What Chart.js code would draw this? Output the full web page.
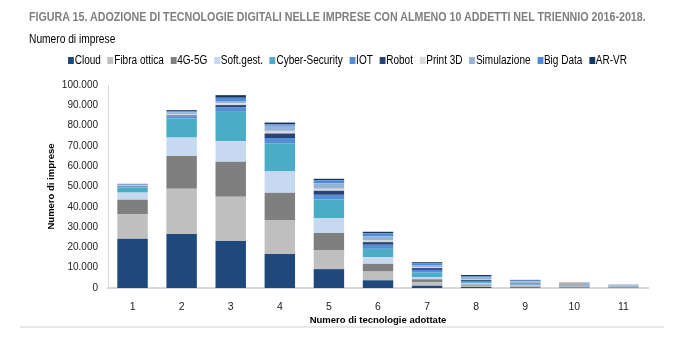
<!DOCTYPE html>
<html lang="it">
<head>
<meta charset="utf-8">
<title>Adozione di tecnologie digitali</title>
<script src="https://cdn.jsdelivr.net/npm/chart.js@4.4.1/dist/chart.umd.min.js"></script>
<style>
    html, body {
        margin: 0;
        padding: 0;
        background: #fff;
    }
    #wrap {
        position: relative;
        width: 695px;
        height: 342px;
        overflow: hidden;
        font-family: "Liberation Sans Narrow", "Arial Narrow", "Liberation Sans", sans-serif;
    }
    #chart {
        position: absolute;
        left: 0;
        top: 0;
    }
    .fit {
        position: absolute;
        white-space: nowrap;
        transform-origin: 0 50%;
    }
    .title {
        left: 29px;
        top: 10px;
        font-size: 12.5px;
        font-weight: bold;
        color: #7f7f7f;
    }
    .subtitle {
        left: 29px;
        top: 32px;
        font-size: 12px;
        color: #000;
    }
    #legend {
        left: 68px;
        top: 53px;
        display: flex;
        gap: 8px;
        font-size: 12px;
        color: #000;
    }
    #legend span.item {
        display: flex;
        align-items: center;
    }
    #legend i {
        display: inline-block;
        width: 7px;
        height: 7px;
        margin-right: 1px;
    }
    .rule {
        position: absolute;
        left: 20px;
        top: 326px;
        width: 644px;
        height: 2px;
        background: #e9e9e9;
    }
</style>
</head>
<body>
<div id="wrap">
    <canvas id="chart" width="695" height="342"></canvas>
    <div class="fit title" data-width="617">FIGURA 15. ADOZIONE DI TECNOLOGIE DIGITALI NELLE IMPRESE CON ALMENO 10 ADDETTI NEL TRIENNIO 2016-2018.</div>
    <div class="fit subtitle" data-width="86">Numero di imprese</div>
    <div class="fit" id="legend" data-width="559"></div>
    <div class="rule"></div>
</div>
<script>
// Numero di tecnologie adottate (asse x)
const categories = ["1", "2", "3", "4", "5", "6", "7", "8", "9", "10", "11"];

// Numero di imprese per tecnologia, per numero di tecnologie adottate
const cloud       = [24300, 26600, 23100, 16700, 9300, 3800, 1100, 500, 300, 220, 145];
const fibraOttica = [12100, 22300, 21900, 16800, 9200, 4300, 1700, 600, 400, 240, 145];
const g4g5        = [7100, 16100, 17200, 13400, 8600, 3800, 1500, 600, 400, 240, 145];
const softGest    = [3500, 9100, 10100, 10500, 7200, 3300, 1100, 500, 350, 230, 145];
const cyber       = [2500, 9400, 14500, 13900, 9300, 4100, 2200, 700, 400, 240, 145];
const iot         = [500, 1100, 2300, 2600, 2300, 2000, 1300, 600, 400, 240, 145];
const robot       = [300, 400, 1000, 2200, 2000, 1300, 900, 500, 350, 230, 145];
const print3d     = [200, 700, 900, 1300, 1000, 800, 300, 300, 250, 220, 145];
const simulazione = [300, 900, 1100, 2500, 2700, 2000, 1200, 800, 450, 260, 145];
const bigData     = [300, 500, 1600, 700, 1400, 1500, 800, 600, 350, 240, 145];
const arVr        = [200, 500, 1300, 900, 800, 800, 600, 700, 350, 240, 145];

const yTicks = [0, 10000, 20000, 30000, 40000, 50000, 60000, 70000, 80000, 90000, 100000];

const series = [
    { label: "Cloud", data: cloud, color: "#1F497D" },
    { label: "Fibra ottica", data: fibraOttica, color: "#BFBFBF" },
    { label: "4G-5G", data: g4g5, color: "#7F7F7F" },
    { label: "Soft.gest.", data: softGest, color: "#C6D9F1" },
    { label: "Cyber-Security", data: cyber, color: "#4BACC6" },
    { label: "IOT", data: iot, color: "#558ED5" },
    { label: "Robot", data: robot, color: "#264478" },
    { label: "Print 3D", data: print3d, color: "#D9D9D9" },
    { label: "Simulazione", data: simulazione, color: "#95B3D7" },
    { label: "Big Data", data: bigData, color: "#4F8BDB" },
    { label: "AR-VR", data: arVr, color: "#17375E" },
];

const FONT = "'Liberation Sans Narrow', 'Arial Narrow', 'Liberation Sans', sans-serif";

// 10000 -> "10.000"
function formatThousands(v) {
    return String(v).replace(/\B(?=(\d{3})+(?!\d))/g, ".");
}

// white background behind the canvas
const whiteBg = {
    id: "whiteBg",
    beforeDraw(chart) {
        const ctx = chart.ctx;
        ctx.save();
        ctx.fillStyle = "#fff";
        ctx.fillRect(0, 0, chart.width, chart.height);
        ctx.restore();
    },
};

const chart = new Chart(document.getElementById("chart").getContext("2d"), {
    type: "bar",
    data: {
        labels: categories,
        datasets: series.map((s) => ({
            label: s.label,
            data: s.data,
            backgroundColor: s.color,
            borderWidth: 0,
            categoryPercentage: 1,
            barPercentage: 0.62,
        })),
    },
    options: {
        responsive: false,
        animation: false,
        layout: {
            padding: { top: 85, left: 44, right: 47, bottom: 14 },
        },
        plugins: {
            legend: { display: false },
            tooltip: { enabled: false },
        },
        scales: {
            x: {
                stacked: true,
                grid: { display: false, drawTicks: false },
                border: { display: true, color: "#d9d9d9", width: 2 },
                ticks: {
                    padding: 13,
                    color: "#222",
                    font: { family: FONT, size: 10.5 },
                },
                title: {
                    display: true,
                    text: "Numero di tecnologie adottate",
                    color: "#000",
                    font: { family: FONT, size: 9.5, weight: "bold" },
                    padding: { top: 0, bottom: 2 },
                },
                afterFit(scale) {
                    scale.height = 40;
                },
            },
            y: {
                stacked: true,
                min: 0,
                max: 100000,
                grid: { display: false, drawTicks: false },
                border: { display: true, color: "#d9d9d9", width: 1 },
                afterBuildTicks(scale) {
                    scale.ticks = yTicks.map((v) => ({ value: v }));
                },
                ticks: {
                    padding: 10,
                    color: "#222",
                    font: { family: FONT, size: 10 },
                    callback: (v) => formatThousands(v),
                },
                title: {
                    display: true,
                    text: "Numero di imprese",
                    color: "#000",
                    font: { family: FONT, size: 9.5, weight: "bold" },
                    padding: { top: 2, bottom: 0 },
                },
                afterFit(scale) {
                    scale.width = 64;
                },
            },
        },
    },
    plugins: [whiteBg],
});

// legend row built from the chart datasets
const legendEl = document.getElementById("legend");
chart.data.datasets.forEach((ds) => {
    const item = document.createElement("span");
    item.className = "item";
    const box = document.createElement("i");
    box.style.background = ds.backgroundColor;
    item.appendChild(box);
    item.appendChild(document.createTextNode(ds.label));
    legendEl.appendChild(item);
});

// squeeze the html text lines horizontally to their set widths
document.querySelectorAll(".fit").forEach((el) => {
    const target = Number(el.dataset.width);
    const natural = el.scrollWidth;
    if (natural > 0) {
        el.style.transform = "scaleX(" + (target / natural) + ")";
    }
});
</script>
</body>
</html>
